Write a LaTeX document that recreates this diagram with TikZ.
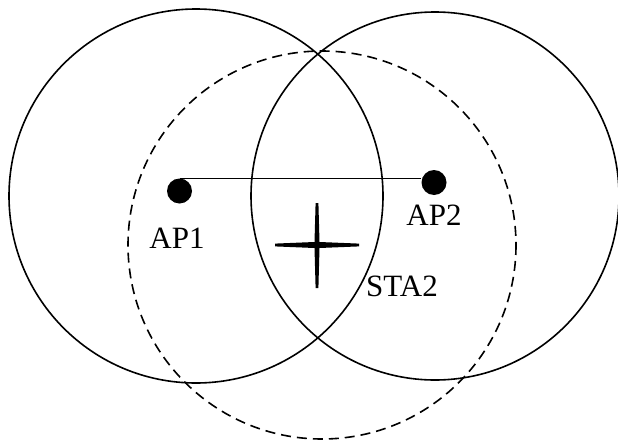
\documentclass[tikz,border=0pt]{standalone}
\usepackage{fontspec}
\setmainfont{Liberation Serif}
\begin{document}
\begin{tikzpicture}[x=1pt,y=-1pt,
  rangecircle/.style={line width=1.6pt},
  rangedashcircle/.style={line width=1.6pt, dash pattern=on 10pt off 6pt},
  apdot/.style={circle, fill=black, inner sep=0pt, minimum size=25pt},
  lbl/.style={inner sep=0pt, font=\fontsize{31}{31}\selectfont}]
\useasboundingbox (0,0) rectangle (618,439);
\coordinate (c1) at (196,196);
\coordinate (c2) at (435,196);
\coordinate (c3) at (322,245);
\draw[rangecircle] (c1) circle[radius=187];
\draw[rangecircle] (c2) circle[radius=184];
\draw[rangedashcircle] (c3) circle[radius=194];
\node[apdot] (ap1) at (179.5,191) {};
\node[apdot] (ap2) at (434,182.5) {};
\draw[line width=1.6pt] (ap1.north) -- (ap1.north -| ap2.west);
\node[lbl] (l1) at (177,238) {AP1};
\node[lbl] (l2) at (434,215) {AP2};
\node[lbl] (l3) at (402,286) {STA2};
\fill (275,243.6) -- (314.5,242) -- (315.6,203) -- (318.4,203) -- (319.5,242) -- (359,243.6) -- (359,246.4) -- (319.5,248) -- (318.4,288) -- (315.6,288) -- (314.5,248) -- (275,246.4) -- cycle;
\end{tikzpicture}
\end{document}
